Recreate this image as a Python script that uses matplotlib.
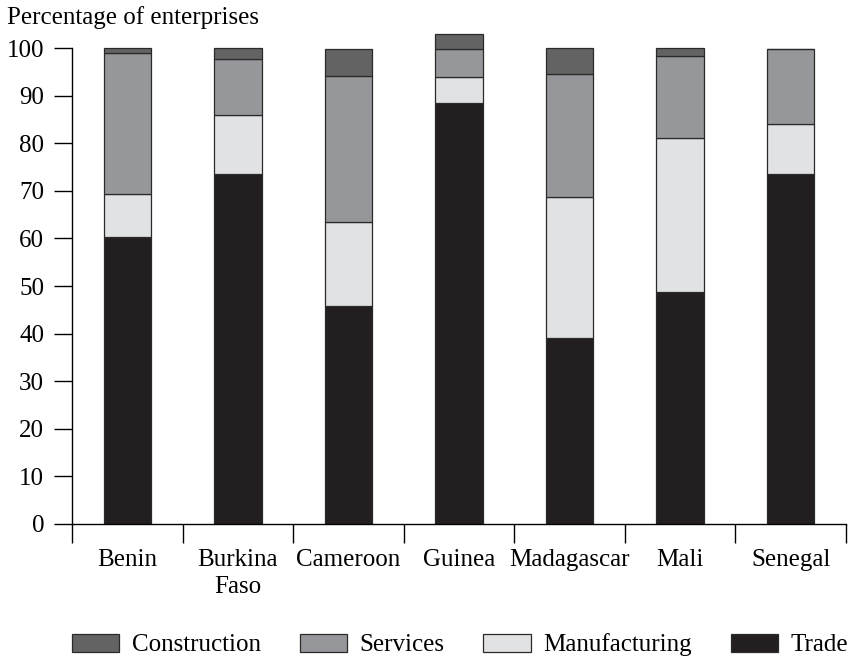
import numpy as np
import matplotlib
matplotlib.use('Agg')
import matplotlib.pyplot as plt
from matplotlib.patches import Patch

plt.rcParams['font.family'] = ['Liberation Serif', 'DejaVu Serif']

countries = ['Benin', 'Burkina\nFaso', 'Cameroon', 'Guinea', 'Madagascar', 'Mali', 'Senegal']
trade = [60.4, 73.5, 45.9, 88.4, 39.1, 48.8, 73.5]
manufacturing = [9.0, 12.5, 17.5, 5.6, 29.7, 32.3, 10.6]
services = [29.5, 11.6, 30.8, 5.7, 25.7, 17.2, 15.8]
construction = [1.1, 2.4, 5.5, 3.2, 5.5, 1.7, 0.0]

colors = {'Trade': '#231f20', 'Manufacturing': '#e1e2e4',
          'Services': '#96979a', 'Construction': '#636363'}

fs = 18
fig = plt.figure(figsize=(8.48, 6.58), dpi=100)
ax = fig.add_axes([72/848, 1-524/658, (846-72)/848, (524-29)/658])

x = np.arange(len(countries))
w = 0.43
bottom = np.zeros(len(countries))
for name, vals in [('Trade', trade), ('Manufacturing', manufacturing),
                   ('Services', services), ('Construction', construction)]:
    vals = np.array(vals)
    ax.bar(x, vals, w, bottom=bottom, color=colors[name],
           edgecolor='#2a2a2a', linewidth=0.9, label=name)
    bottom += vals

ax.set_xlim(-0.5, 6.5)
ax.set_ylim(0, 104)
ax.spines['top'].set_visible(False)
ax.spines['right'].set_visible(False)
ax.spines['left'].set_bounds(0, 100)
ax.spines['left'].set_linewidth(1.0)
ax.spines['bottom'].set_linewidth(1.0)

ax.set_yticks(range(0, 101, 10))
ax.tick_params(axis='y', direction='out', length=13, width=1.0, pad=7, labelsize=fs)
ax.set_xticks(x)
ax.set_xticklabels(countries, fontsize=fs, linespacing=1.3)
ax.tick_params(axis='x', which='major', length=0, pad=18)
ax.set_xticks(np.arange(-0.5, 7, 1), minor=True)
ax.tick_params(axis='x', which='minor', direction='out', length=14, width=1.0)

fig.text(7/848, 1-18/658, 'Percentage of enterprises', fontsize=fs, va='center', ha='left')

handles = [Patch(facecolor=colors[n], edgecolor='#2a2a2a', linewidth=0.9, label=n)
           for n in ['Construction', 'Services', 'Manufacturing', 'Trade']]
fig.legend(handles=handles, loc='center', bbox_to_anchor=(460/848, 1-645/658), ncol=4,
           frameon=False, fontsize=fs, handlelength=1.9, handleheight=0.75,
           columnspacing=1.55, handletextpad=0.5, borderpad=0, borderaxespad=0)

fig.savefig('out.png', dpi=100)
